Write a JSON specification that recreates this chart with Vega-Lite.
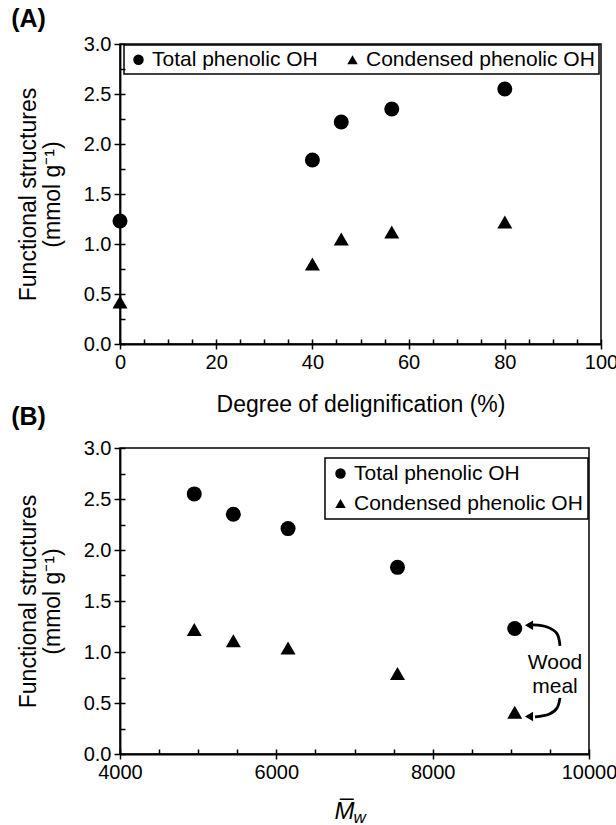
{
  "$schema": "https://vega.github.io/schema/vega-lite/v6.json",
  "padding": {"left": 10, "top": 6, "right": 0, "bottom": 0},
  "spacing": -13,
  "config": {
    "font": "Liberation Sans",
    "view": {"stroke": "black", "strokeWidth": 1.5},
    "axis": {
      "domainColor": "black", "domainWidth": 1.8,
      "tickColor": "black", "tickWidth": 1.5,
      "labelColor": "black", "titleColor": "black",
      "labelFont": "Liberation Sans", "titleFont": "Liberation Sans",
      "labelFontSize": 20, "titleFontSize": 23, "titleFontWeight": "normal",
      "labelFlush": false, "labelOverlap": false,
      "grid": false
    },
    "legend": {
      "labelFont": "Liberation Sans", "labelFontSize": 21, "labelColor": "black",
      "labelLimit": 400, "labelOffset": 4, "strokeColor": "black", "strokeWidth": 1.5,
      "symbolSize": 110, "symbolFillColor": "black", "symbolStrokeColor": "black",
      "symbolOpacity": 1
    },
    "title": {"fontSize": 25, "fontWeight": "bold", "anchor": "start", "frame": "bounds", "color": "black", "font": "Liberation Sans"}
  },
  "resolve": {"scale": {"shape": "independent"}, "legend": {"shape": "independent"}},
  "vconcat": [
    {
      "title": {"text": "(A)", "offset": 2, "dx": -6},
      "width": 481,
      "height": 300,
      "data": {
        "values": [
          {"delig": 0, "value": 1.23, "series": "Total phenolic OH"},
          {"delig": 40, "value": 1.84, "series": "Total phenolic OH"},
          {"delig": 46, "value": 2.22, "series": "Total phenolic OH"},
          {"delig": 56.5, "value": 2.35, "series": "Total phenolic OH"},
          {"delig": 80, "value": 2.55, "series": "Total phenolic OH"},
          {"delig": 0, "value": 0.42, "series": "Condensed phenolic OH"},
          {"delig": 40, "value": 0.8, "series": "Condensed phenolic OH"},
          {"delig": 46, "value": 1.05, "series": "Condensed phenolic OH"},
          {"delig": 56.5, "value": 1.12, "series": "Condensed phenolic OH"},
          {"delig": 80, "value": 1.22, "series": "Condensed phenolic OH"}
        ]
      },
      "resolve": {"axis": {"x": "independent", "y": "independent"}},
      "layer": [
        {
          "transform": [{"filter": "datum.series === 'Total phenolic OH'"}],
          "mark": {"type": "point", "filled": true, "color": "black", "opacity": 1, "size": 225},
          "encoding": {
            "x": {"field": "delig", "type": "quantitative",
              "scale": {"domain": [0, 100], "nice": false, "zero": false},
              "axis": {"orient": "bottom", "values": [0, 20, 40, 60, 80, 100], "tickSize": 5, "labelPadding": 3,
                "title": "Degree of delignification (%)", "titlePadding": 21}},
            "y": {"field": "value", "type": "quantitative",
              "scale": {"domain": [0, 3], "nice": false},
              "axis": {"orient": "left", "values": [0, 0.5, 1, 1.5, 2, 2.5, 3], "format": ".1f", "tickSize": 6, "labelPadding": 3,
                "title": ["Functional structures", "(mmol g⁻¹)"], "titlePadding": 19, "titleLineHeight": 24}},
            "shape": {"field": "series", "type": "nominal",
              "scale": {"domain": ["Total phenolic OH", "Condensed phenolic OH"], "range": ["circle", "triangle-up"]},
              "legend": {"title": null, "orient": "none", "direction": "horizontal", "legendX": 4, "legendY": 1,
                "columnPadding": 24, "padding": 4, "labelOffset": 3}}
          }
        },
        {
          "transform": [{"filter": "datum.series === 'Condensed phenolic OH'"}],
          "mark": {"type": "point", "filled": true, "color": "black", "opacity": 1, "size": 225},
          "encoding": {
            "x": {"field": "delig", "type": "quantitative",
              "axis": {"orient": "bottom", "values": [0, 5, 10, 15, 20, 25, 30, 35, 40, 45, 50, 55, 60, 65, 70, 75, 80, 85, 90, 95, 100],
                "tickSize": -5, "labels": false, "domain": false, "title": null}},
            "y": {"field": "value", "type": "quantitative",
              "axis": {"orient": "left", "values": [0, 0.25, 0.5, 0.75, 1, 1.25, 1.5, 1.75, 2, 2.25, 2.5, 2.75, 3],
                "tickSize": -5, "labels": false, "domain": false, "title": null}},
            "shape": {"field": "series", "type": "nominal"}
          }
        }
      ]
    },
    {
      "title": {"text": "(B)", "offset": 8, "dx": -6},
      "width": 469,
      "height": 306,
      "layer": [
        {
          "data": {
            "values": [
              {"mw": 4950, "value": 2.55, "series": "Total phenolic OH"},
              {"mw": 5450, "value": 2.35, "series": "Total phenolic OH"},
              {"mw": 6150, "value": 2.21, "series": "Total phenolic OH"},
              {"mw": 7550, "value": 1.83, "series": "Total phenolic OH"},
              {"mw": 9050, "value": 1.23, "series": "Total phenolic OH"}
            ]
          },
          "mark": {"type": "point", "filled": true, "color": "black", "opacity": 1, "size": 225},
          "encoding": {
            "x": {"field": "mw", "type": "quantitative",
              "scale": {"domain": [4000, 10000], "nice": false, "zero": false},
              "axis": {"orient": "bottom", "values": [4000, 6000, 8000, 10000], "format": "d", "tickSize": 5, "labelPadding": 3,
                "title": "M̅", "titleFontStyle": "italic", "titleFontSize": 24, "titleX": 224, "titleY": 64,
                "titleBaseline": "alphabetic", "titleAlign": "center"}},
            "y": {"field": "value", "type": "quantitative",
              "scale": {"domain": [0, 3], "nice": false},
              "axis": {"orient": "left", "values": [0, 0.5, 1, 1.5, 2, 2.5, 3], "format": ".1f", "tickSize": 6, "labelPadding": 3,
                "title": ["Functional structures", "(mmol g⁻¹)"], "titlePadding": 19, "titleLineHeight": 24}},
            "shape": {"field": "series", "type": "nominal",
              "scale": {"domain": ["Total phenolic OH", "Condensed phenolic OH"], "range": ["circle", "triangle-up"]},
              "legend": {"title": null, "orient": "none", "direction": "vertical", "legendX": 205, "legendY": 10,
                "rowPadding": 8, "padding": 5, "labelOffset": 3}}
          }
        },
        {
          "data": {
            "values": [
              {"mw": 4950, "value": 1.22, "series": "Condensed phenolic OH"},
              {"mw": 5450, "value": 1.11, "series": "Condensed phenolic OH"},
              {"mw": 6150, "value": 1.04, "series": "Condensed phenolic OH"},
              {"mw": 7550, "value": 0.79, "series": "Condensed phenolic OH"},
              {"mw": 9050, "value": 0.41, "series": "Condensed phenolic OH"}
            ]
          },
          "mark": {"type": "point", "filled": true, "color": "black", "opacity": 1, "size": 225},
          "encoding": {
            "x": {"field": "mw", "type": "quantitative",
              "axis": {"orient": "bottom", "values": [4000, 4500, 5000, 5500, 6000, 6500, 7000, 7500, 8000, 8500, 9000, 9500, 10000],
                "tickSize": -5, "labels": false, "domain": false,
                "title": "w", "titleFontStyle": "italic", "titleFontSize": 17, "titleX": 233, "titleY": 68,
                "titleBaseline": "alphabetic", "titleAlign": "left"}},
            "y": {"field": "value", "type": "quantitative",
              "axis": {"orient": "left", "values": [0, 0.25, 0.5, 0.75, 1, 1.25, 1.5, 1.75, 2, 2.25, 2.5, 2.75, 3],
                "tickSize": -5, "labels": false, "domain": false, "title": null}},
            "shape": {"field": "series", "type": "nominal"}
          }
        },
        {
          "data": {
            "values": [
              {"mw": 9565, "value": 0.89, "note": "Wood"},
              {"mw": 9565, "value": 0.66, "note": "meal"}
            ]
          },
          "mark": {"type": "text", "fontSize": 21, "align": "center", "baseline": "middle", "color": "black", "font": "Liberation Sans"},
          "encoding": {
            "x": {"field": "mw", "type": "quantitative", "axis": null},
            "y": {"field": "value", "type": "quantitative", "axis": null},
            "text": {"field": "note"}
          }
        },
        {
          "data": {
            "values": [
              {"arrow": "upper", "step": 0, "mw": 9629, "value": 1.06},
              {"arrow": "upper", "step": 1, "mw": 9590, "value": 1.18},
              {"arrow": "upper", "step": 2, "mw": 9463, "value": 1.245},
              {"arrow": "upper", "step": 3, "mw": 9284, "value": 1.265},
              {"arrow": "lower", "step": 0, "mw": 9629, "value": 0.55},
              {"arrow": "lower", "step": 1, "mw": 9590, "value": 0.45},
              {"arrow": "lower", "step": 2, "mw": 9488, "value": 0.39},
              {"arrow": "lower", "step": 3, "mw": 9309, "value": 0.363}
            ]
          },
          "mark": {"type": "line", "color": "black", "strokeWidth": 2.8, "interpolate": "cardinal"},
          "encoding": {
            "x": {"field": "mw", "type": "quantitative", "axis": null},
            "y": {"field": "value", "type": "quantitative", "axis": null},
            "detail": {"field": "arrow"},
            "order": {"field": "step"}
          }
        },
        {
          "data": {
            "values": [
              {"mw": 9232, "value": 1.262},
              {"mw": 9232, "value": 0.368}
            ]
          },
          "mark": {"type": "point", "shape": "triangle-left", "filled": true, "color": "black", "opacity": 1, "size": 90},
          "encoding": {
            "x": {"field": "mw", "type": "quantitative", "axis": null},
            "y": {"field": "value", "type": "quantitative", "axis": null}
          }
        }
      ],
      "resolve": {"axis": {"x": "independent", "y": "independent"}}
    }
  ]
}
